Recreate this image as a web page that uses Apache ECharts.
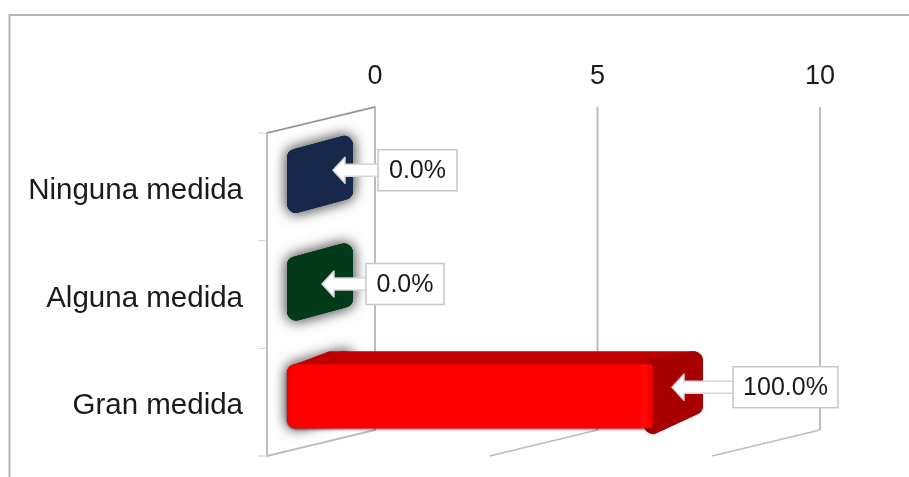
<!DOCTYPE html>
<html><head><meta charset="utf-8">
<style>html,body{margin:0;padding:0;background:#fff}#c{width:909px;height:477px;filter:blur(0.5px)}</style>
<script src="https://cdn.jsdelivr.net/npm/echarts@6/dist/echarts.min.js"></script>
</head><body><div id="c"></div>
<script>
const categories = ['Ninguna medida', 'Alguna medida', 'Gran medida'];
const values = [0, 0, 8];
const percentLabels = ['0.0%', '0.0%', '100.0%'];
const valueTicks = [0, 5, 10];
const barColors = ['#17284a', '#023a1a', '#ff0000'];

// Pseudo-3D look (pixels, relative to the back-wall scale)
const depth = {dx: 108, dy: 26};
const callouts = [
  {boxDx: 3, dy: 9.5, w: 79, tip: 42},
  {boxDx: -9, dy: 15.5, w: 78, tip: 53},
  {boxDx: 2, dy: 11, w: 105, tip: 59}
];
const GREY = '#bdbdbd';
const FONT = '"Liberation Sans", Arial, sans-serif';

function wall(params, api) {
  const v = api.value(0);
  const p = api.coord([v, 0]);
  const rect = params.coordSys;
  const top = rect.y, bottom = rect.y + rect.height, x = p[0];
  const children = [];
  if (v === 0) {
    children.push({type: 'polygon', shape: {points: [[x, top], [x - depth.dx, top + depth.dy], [x - depth.dx, bottom + depth.dy], [x, bottom]]},
      style: {fill: '#fff', stroke: GREY, lineWidth: 2}});
    children.push({type: 'line', shape: {x1: x, y1: top, x2: x - depth.dx, y2: top + depth.dy}, style: {stroke: '#8c8c8c', lineWidth: 1.2}});
    for (let i = 0; i <= categories.length; i++) {
      const y = top + depth.dy + i * rect.height / categories.length;
      children.push({type: 'line', shape: {x1: x - depth.dx - 9, y1: y, x2: x - depth.dx, y2: y}, style: {stroke: '#d0d0d0', lineWidth: 1}});
    }
  } else {
    children.push({type: 'line', shape: {x1: x, y1: top, x2: x, y2: bottom}, style: {stroke: GREY, lineWidth: 2}});
    children.push({type: 'line', shape: {x1: x, y1: bottom, x2: x - depth.dx, y2: bottom + depth.dy}, style: {stroke: GREY, lineWidth: 1.5}});
  }
  return {type: 'group', children};
}

function bar(params, api) {
  const v = api.value(0), i = api.value(1);
  const p0 = api.coord([0, i]), p1 = api.coord([v, i]);
  const h = 32, r = 9, color = barColors[i];
  const backY = p0[1] + 7, frontY = p0[1] + 20;
  const facePts = [[p0[0] - 88 + r, frontY - h + r], [p0[0] - 22 - r, backY - h + r], [p0[0] - 22 - r, backY + h - r], [p0[0] - 88 + r, frontY + h - r]];
  const glow = {type: 'polygon', shape: {points: facePts}, style: {fill: color, stroke: color, lineWidth: r * 2, lineJoin: 'round', shadowBlur: 14, shadowColor: 'rgba(120,120,120,1)'}};
  const children = [
    glow, glow,
    {type: 'polygon', shape: {points: facePts}, style: {fill: color, stroke: color, lineWidth: r * 2, lineJoin: 'round'}}
  ];
  if (v > 0) {
    const fx = p1[0] - 78, bx = p1[0] - 28, sfx = p0[0] - 88, sbx = p0[0] - 45;
    const ty = frontY - h, by = frontY + h, tb = backY - h, bb = backY + h;
    children.push({type: 'polygon', shape: {points: [[sfx + r, ty + 4], [sbx, tb + 4], [bx - r, tb + 4], [fx, ty + 4]]},
      style: {fill: '#c00000', stroke: '#c00000', lineWidth: 8, lineJoin: 'round'}});
    children.push({type: 'polygon', shape: {points: [[fx, ty + 2], [bx - r, tb + r], [bx - r, bb - r], [fx, by - 3]]},
      style: {fill: '#a80000', stroke: '#a80000', lineWidth: r * 2, lineJoin: 'round'}});
    children.push({type: 'rect', shape: {x: sfx, y: ty, width: fx - sfx, height: by - ty, r: [9, 3, 3, 9]},
      style: {fill: {type: 'linear', x: 0, y: 0, x2: 1, y2: 0, colorStops: [
        {offset: 0, color: '#f00000'}, {offset: 0.02, color: '#ff0000'}, {offset: 0.96, color: '#ff0000'}, {offset: 0.975, color: '#ff0a0a'}, {offset: 1, color: '#ee0000'}]},
        shadowBlur: 3, shadowColor: 'rgba(90,0,0,0.8)', shadowOffsetY: 1}});
  }
  return {type: 'group', children};
}

function callout(params, api) {
  const v = api.value(0), i = api.value(1);
  const p = api.coord([v, i]), c = callouts[i];
  const cy = p[1] + c.dy, bx = p[0] + c.boxDx, tip = p[0] - c.tip;
  return {type: 'group', children: [
    {type: 'polygon', shape: {points: [[tip, cy], [tip + 12, cy - 13], [tip + 12, cy - 6], [bx + 1, cy - 6], [bx + 1, cy + 6], [tip + 12, cy + 6], [tip + 12, cy + 13]]},
      style: {fill: '#fff', stroke: '#d6d6d6', lineWidth: 1.5, lineJoin: 'round'}},
    {type: 'rect', shape: {x: bx, y: cy - 20.5, width: c.w, height: 41},
      style: {fill: '#fff', stroke: '#c8c8c8', lineWidth: 1.5}},
    {type: 'text', style: {x: bx + c.w / 2, y: cy + 1, text: percentLabels[i], fill: '#1a1a1a', font: '25px ' + FONT, align: 'center', verticalAlign: 'middle'}}
  ]};
}

const chart = echarts.init(document.getElementById('c'), null, {renderer: 'canvas'});
chart.setOption({
  animation: false,
  backgroundColor: '#fff',
  grid: [
    {left: 375, right: 89, top: 107, bottom: 47},
    {left: 267, right: 197, top: 137, bottom: 17}
  ],
  xAxis: [
    {type: 'value', position: 'top', min: 0, max: 10, interval: 5, gridIndex: 0,
      axisLine: {show: false}, axisTick: {show: false}, splitLine: {show: false},
      axisLabel: {margin: 17, color: '#1a1a1a', fontFamily: FONT, fontSize: 27}},
    {type: 'value', min: 0, max: 10, interval: 5, gridIndex: 1, show: false}
  ],
  yAxis: [
    {type: 'category', inverse: true, data: categories, gridIndex: 0, show: false},
    {type: 'category', inverse: true, data: categories, gridIndex: 1,
      axisLine: {show: false}, axisTick: {show: false}, splitLine: {show: false},
      axisLabel: {margin: 24, color: '#1a1a1a', fontFamily: FONT, fontSize: 29.5}}
  ],
  graphic: [{type: 'polyline', silent: true, shape: {points: [[9.5, 477], [9.5, 15], [909, 15]]}, style: {fill: 'none', stroke: '#b5b5b5', lineWidth: 2}}],
  series: [
    {type: 'custom', z: 1, clip: false, renderItem: wall, encode: {x: 0}, data: valueTicks.map(t => [t])},
    {type: 'custom', z: 2, clip: false, renderItem: bar, encode: {x: 0, y: 1}, data: values.map((v, i) => [v, i])},
    {type: 'custom', z: 3, clip: false, renderItem: callout, encode: {x: 0, y: 1}, data: values.map((v, i) => [v, i])}
  ]
});
</script></body></html>
